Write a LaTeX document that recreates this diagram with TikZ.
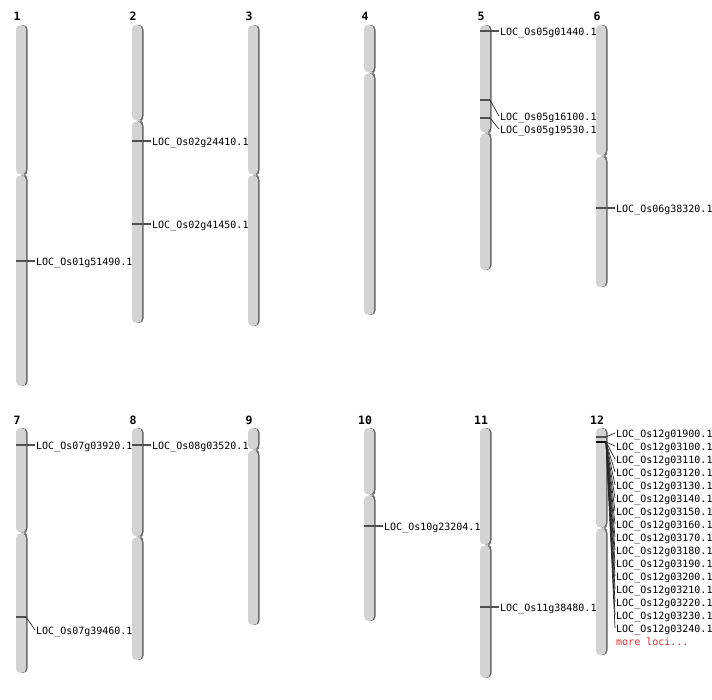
\documentclass[tikz,border=0pt]{standalone}
\usepackage{fontspec}
\newfontfamily\locfont{DejaVu Sans Mono}

\definecolor{armfill}{RGB}{211,211,211}
\definecolor{armedge}{RGB}{100,100,100}
\definecolor{markgray}{RGB}{80,80,80}
\definecolor{morered}{RGB}{214,40,40}

\tikzset{
	arm/.style={fill=armfill, rounded corners=4.5pt},
	armshadow/.style={fill=armedge, rounded corners=4.5pt},
	locus/.style={draw=markgray, line width=1.3pt},
	lead/.style={draw=black!85, line width=0.7pt},
	locname/.style={anchor=west, inner sep=1pt, text height=9.5pt, text depth=0.5pt,
		font=\locfont\fontsize{10}{10}\selectfont},
	chrnum/.style={anchor=base, inner sep=0pt, font=\locfont\bfseries\fontsize{11.5}{12}\selectfont}
}

\begin{document}
\begin{tikzpicture}[x=1pt, y=-1pt]
		\useasboundingbox (0,0) rectangle (712,700);
		
		% chromosomes: number / left x / top / centromere / bottom / number baseline
		\foreach \n/\x/\t/\c/\b/\nb in {1/16/25/175/386/21, 2/132/25/121/323/21, 3/248/25/175/326/21,
			4/364/25/73/315/21, 5/480/25/133/270/21, 6/596/25/156/287/21,
			7/16/428/533/673/424, 8/132/428/537/660/424, 9/248/428/450/625/424,
			10/364/428/495/621/424, 11/480/428/545/678/424, 12/596/428/528/655/424} {
			\fill[armshadow] (\x+1.5,\t) rectangle (\x+11.5,\c-0.5);
			\fill[arm] (\x,\t) rectangle (\x+10,\c-0.5);
			\fill[armshadow] (\x+1.5,\c+0.5) rectangle (\x+11.5,\b);
			\fill[arm] (\x,\c+0.5) rectangle (\x+10,\b);
			\draw[armedge, line width=0.9pt] (\x+11,\c-2.5) -- (\x+8.5,\c) -- (\x+11,\c+2.5);
			\node[chrnum] (n\n) at (\x+1,\nb) {\n};
		}
		
		% loci
		\coordinate (m1a) at (16,261);
		\node[locname] (l1a) at (35,261) {LOC\_Os01g51490.1};
		\draw[locus] (m1a) -- (l1a.west);
		
		\coordinate (m2a) at (132,141);
		\node[locname] (l2a) at (151,141) {LOC\_Os02g24410.1};
		\draw[locus] (m2a) -- (l2a.west);
		\coordinate (m2b) at (132,224);
		\node[locname] (l2b) at (151,224) {LOC\_Os02g41450.1};
		\draw[locus] (m2b) -- (l2b.west);
		
		\coordinate (m5a) at (480,31);
		\node[locname] (l5a) at (499,31) {LOC\_Os05g01440.1};
		\draw[locus] (m5a) -- (l5a.west);
		\coordinate (m5b) at (490,100);
		\node[locname] (l5b) at (499,116) {LOC\_Os05g16100.1};
		\draw[locus] (m5b) -- +(-10,0);
		\draw[lead] (m5b) -- (l5b.west);
		\coordinate (m5c) at (490,118);
		\node[locname] (l5c) at (499,129) {LOC\_Os05g19530.1};
		\draw[locus] (m5c) -- +(-10,0);
		\draw[lead] (m5c) -- (l5c.west);
		
		\coordinate (m6a) at (596,208);
		\node[locname] (l6a) at (615,208) {LOC\_Os06g38320.1};
		\draw[locus] (m6a) -- (l6a.west);
		
		\coordinate (m7a) at (16,445);
		\node[locname] (l7a) at (35,445) {LOC\_Os07g03920.1};
		\draw[locus] (m7a) -- (l7a.west);
		\coordinate (m7b) at (26,617);
		\node[locname] (l7b) at (35,630) {LOC\_Os07g39460.1};
		\draw[locus] (m7b) -- +(-10,0);
		\draw[lead] (m7b) -- (l7b.west);
		
		\coordinate (m8a) at (132,445);
		\node[locname] (l8a) at (151,445) {LOC\_Os08g03520.1};
		\draw[locus] (m8a) -- (l8a.west);
		
		\coordinate (m10a) at (364,526);
		\node[locname] (l10a) at (383,526) {LOC\_Os10g23204.1};
		\draw[locus] (m10a) -- (l10a.west);
		
		\coordinate (m11a) at (480,607);
		\node[locname] (l11a) at (499,607) {LOC\_Os11g38480.1};
		\draw[locus] (m11a) -- (l11a.west);
		
		\coordinate (m12a) at (606,437);
		\coordinate (m12b) at (606,442);
		\draw[locus] (m12a) -- +(-10,0);
		\draw[line width=2pt] (m12b) -- +(-10,0);
		\node[locname] (l12a) at (615,433) {LOC\_Os12g01900.1};
		\draw[lead] (m12a) -- (l12a.west);
		\foreach \g [count=\i] in {03100,03110,03120,03130,03140,03150,03160,03170,
			03180,03190,03200,03210,03220,03230,03240} {
			\node[locname] (l12\i) at (615,433+13*\i) {LOC\_Os12g\g.1};
			\draw[lead] (m12b) -- (l12\i.west);
		}
		\node[locname, text=morered] (more) at (615,641) {more loci...};
		\end{tikzpicture}
\end{document}
